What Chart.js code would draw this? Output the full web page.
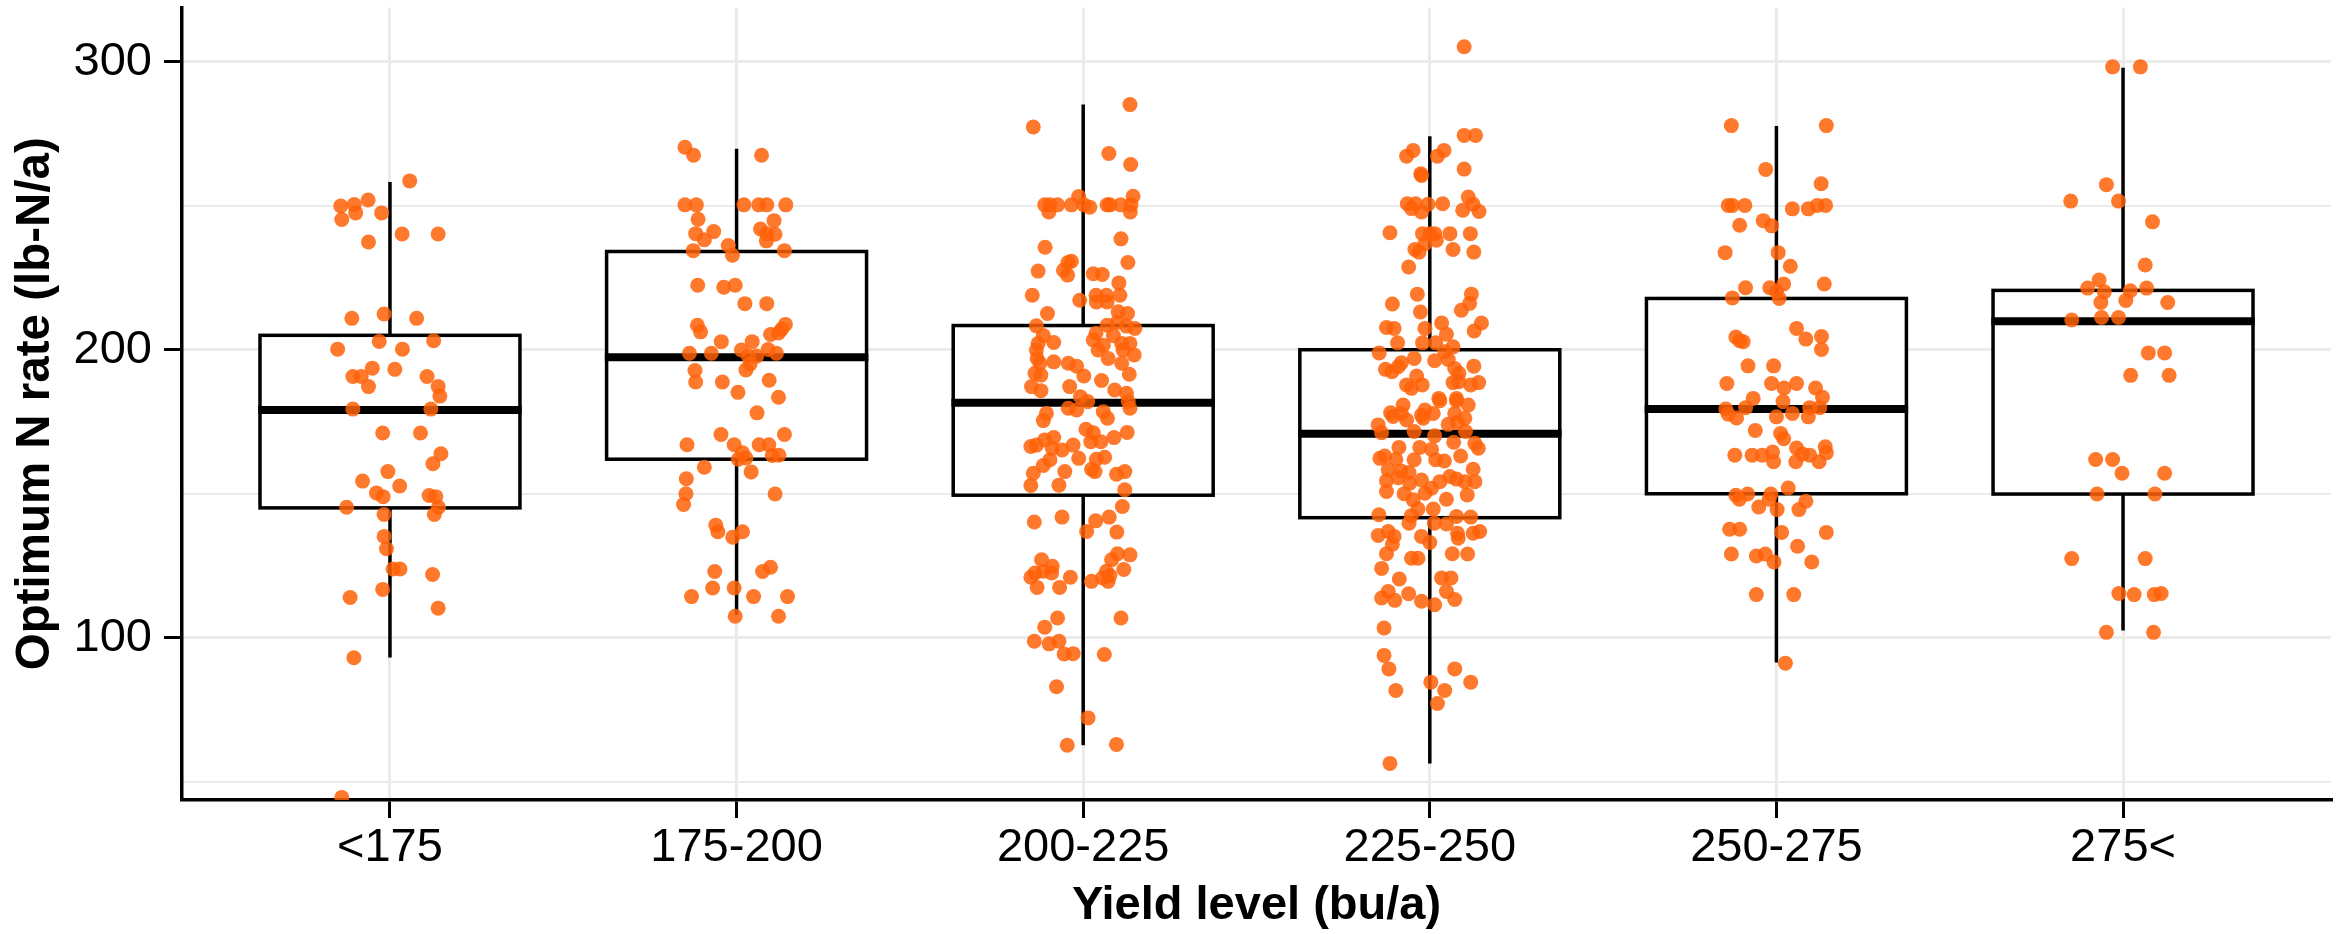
<!DOCTYPE html>
<html>
<head>
<meta charset="utf-8">
<style>
  html, body { margin: 0; padding: 0; background: #fff; }
</style>
<script src="https://cdn.jsdelivr.net/npm/chart.js@4.4.0/dist/chart.umd.min.js"></script>
</head>
<body>
<canvas id="grafico" width="2343" height="934"></canvas>
<script>
// Categories and axis ticks
const categorias = ['<175', '175-200', '200-225', '225-250', '250-275', '275<'];
const yTicks = [50, 100, 150, 200, 250, 300];
const yLabels = [100, 200, 300];

// Box plot statistics per category
const bigodeInf = [93.2, 107.9, 62.7, 56.4, 91.4, 102.5];
const quartil1 = [145.1, 162.0, 149.5, 141.7, 150.0, 149.9];
const mediana = [179.1, 197.4, 181.6, 170.8, 179.4, 209.9];
const quartil3 = [205.0, 234.1, 208.4, 200.0, 217.8, 220.6];
const bigodeSup = [258.2, 269.8, 285.1, 274.1, 277.7, 297.9];

// Jittered observations: [horizontal jitter (category units), optimum N rate]
const pontosG1 = [
  [0.057,258.6],[-0.142,249.9],[-0.103,250.4],[-0.063,252],[-0.139,245.2],[-0.099,247.5],[-0.024,247.5],
  [0.035,240.2],[0.139,240.2],[-0.062,237.4],[-0.110,210.9],[-0.017,212.4],[0.077,210.9],[-0.151,200.2],
  [-0.031,202.9],[0.036,200.2],[0.126,203.1],[-0.107,190.7],[-0.083,190.7],[-0.051,193.6],[0.014,193.2],
  [-0.062,187.2],[0.107,190.7],[0.139,187.2],[0.144,183.9],[-0.107,179.4],[0.118,179.4],[-0.021,171.1],
  [0.088,171.1],[0.147,163.9],[0.124,160.4],[-0.006,157.7],[-0.079,154.4],[0.028,152.7],[-0.039,150.3],
  [-0.020,149],[0.113,149.4],[0.132,149],[-0.125,145.3],[0.140,145.3],[-0.017,142.8],[0.128,142.8],
  [-0.017,135.2],[-0.010,130.9],[0.009,123.9],[0.029,123.9],[0.123,122],[-0.021,116.8],[-0.115,114],
  [0.139,110.3],[-0.104,93.1],[-0.139,44.6]
];
const pontosG2 = [
  [-0.149,270.3],[-0.124,267.5],[0.072,267.5],[-0.149,250.3],[-0.116,250.3],[0.021,250.3],[0.064,250.3],
  [0.087,250.3],[0.142,250.3],[-0.111,245.3],[0.108,244.8],[-0.118,240.3],[-0.066,241],[-0.093,238.2],
  [0.069,241.9],[0.087,240.3],[0.111,240.1],[0.086,237.8],[-0.024,236.2],[-0.125,234.4],[-0.012,232.8],
  [0.138,234.4],[-0.112,222.4],[-0.037,221.7],[-0.004,222.4],[0.024,216],[0.087,216],[-0.113,208.5],
  [-0.104,206.2],[0.141,208.8],[0.130,207.1],[0.098,205.3],[0.121,205.8],[-0.044,202.8],[0.045,202.8],
  [-0.136,198.8],[-0.073,198.8],[0.014,199.9],[0.034,197.8],[0.058,197.8],[0.091,200.1],[0.115,198.8],
  [0.039,195.1],[0.027,193],[-0.120,192.8],[-0.118,188.8],[-0.041,188.8],[0.094,189.4],[0.004,185.2],
  [0.121,183.5],[0.059,178.1],[-0.045,170.6],[0.138,170.6],[-0.143,167],[-0.007,167],[0.065,167],
  [0.093,167],[0.017,164.2],[0.005,162],[0.027,162.4],[0.103,163.3],[0.122,163.4],[-0.093,159.2],
  [0.042,157.6],[-0.145,155.2],[-0.146,150],[-0.153,146.3],[0.111,149.9],[-0.060,139.1],[-0.054,136.8],
  [-0.011,134.9],[0.017,136.8],[-0.063,123],[0.075,123],[0.098,124.5],[-0.069,117.3],[-0.007,117.3],
  [-0.130,114.3],[0.049,114.3],[0.147,114.3],[-0.004,107.5],[0.121,107.5]
];
const pontosG3 = [
  [0.135,285.1],[-0.144,277.3],[0.074,268.1],[0.137,264.3],[-0.013,253.2],[0.144,253.3],[-0.111,250.3],
  [-0.096,250.3],[-0.074,250.3],[-0.099,247.8],[-0.034,250.3],[0.002,250.3],[0.019,249.5],[0.069,250.3],
  [0.077,250.3],[0.108,250.3],[0.138,250.3],[0.136,247.8],[0.109,238.5],[-0.110,235.6],[0.129,230.3],
  [-0.034,230.7],[-0.044,230.3],[-0.057,227.6],[-0.045,225.9],[-0.130,227.3],[0.029,226.4],[0.055,226.1],
  [0.103,223.2],[-0.147,218.9],[-0.010,217.2],[0.037,218.9],[0.067,218.9],[0.106,218.9],[0.038,216.6],
  [0.069,216.6],[-0.103,212.6],[0.101,213.2],[0.128,212.6],[-0.135,208.3],[0.069,208.5],[0.098,209.5],
  [0.125,208.2],[0.149,207.4],[-0.115,204.9],[-0.085,202.5],[-0.130,202.2],[0.037,205.7],[0.029,203.4],
  [0.058,201.6],[0.087,204.9],[0.111,202.2],[0.135,202.2],[-0.135,199.9],[0.043,199.9],[0.072,197],
  [0.115,199.9],[0.147,198.2],[-0.133,197],[-0.125,195.3],[-0.085,195.8],[-0.043,195.3],[-0.019,194.3],
  [0.111,195.3],[-0.139,191.8],[-0.122,191.2],[0.002,190.9],[0.133,191.5],[0.053,189.3],[-0.149,187.2],
  [-0.122,185.8],[-0.039,187.2],[0.091,186],[0.125,184.9],[-0.008,183.7],[0.013,182],[0.130,182],
  [-0.043,179.7],[-0.019,179.1],[0.135,179.7],[-0.106,177.9],[0.058,178.5],
  [-0.115,175.4],[0.070,176.2],[0.008,172.4],[0.029,171.2],[0.127,171.3],[0.022,168.1],[0.051,168.1],
  [0.089,169.5],[-0.111,168.7],[-0.085,169.5],[-0.151,166.4],[-0.135,166.9],[-0.089,165.8],[-0.061,165.2],
  [-0.029,166.9],[-0.013,162.3],[-0.096,161.8],[-0.115,159.8],[0.038,162],[0.062,162.7],[-0.144,157.1],
  [-0.053,157.7],[0.024,158.5],[0.034,157.7],[0.096,156.8],[0.120,157.7],[-0.151,152.9],[-0.070,153],
  [0.120,151.4],[0.113,145.6],[-0.141,140.2],[-0.061,141.9],[0.036,140.6],[0.075,141.9],[0.010,136.9],
  [0.097,136.7],[-0.120,127.1],[-0.089,124.8],[-0.139,122.5],[-0.151,121],[-0.115,123.1],[-0.091,122.5],
  [-0.037,121],[-0.133,117.5],[-0.068,117.5],[0.024,119.6],[0.099,129.2],[0.135,128.8],[0.082,127.1],
  [0.117,123.7],[0.067,123.1],[0.077,121.6],[0.056,120.8],[0.072,119.6],[-0.074,106.9],[-0.111,103.7],
  [0.109,106.9],[-0.141,98.8],[-0.098,97.9],[-0.070,98.8],[-0.055,94.4],[-0.029,94.5],[0.061,94.2],
  [-0.077,83],[0.014,72.2],[-0.046,62.7],[0.096,63]
];
const pontosG4 = [
  [0.099,305.2],[0.099,274.4],[0.132,274.4],[-0.048,269.2],[-0.067,267.2],[0.041,269.2],[0.022,267.2],
  [0.099,262.7],[-0.026,261.1],[-0.024,260.5],[-0.065,250.7],[-0.053,249],[-0.041,250.7],[-0.024,247.8],
  [-0.005,250.5],[0.037,250.7],[0.111,253],[0.095,248.4],[0.125,250.5],[0.142,248],[-0.115,240.6],
  [-0.021,240.3],[0,240.3],[0.014,240.3],[0.019,238],[0.058,240.3],[0.117,240.3],[-0.043,234.8],
  [-0.031,233.9],[-0.014,236.8],[0.067,234.8],[0.127,233.9],[-0.061,228.7],[-0.036,219.3],[-0.108,215.9],
  [-0.027,213.1],[0.120,219.3],[0.115,216.1],[0.091,213.7],[-0.125,207.7],[-0.103,207.4],[-0.014,207.4],
  [0.034,209.3],[0.048,205.4],[0.149,209.3],[0.128,206.5],[-0.093,202.4],[-0.021,202.4],[0.017,202.4],
  [0.067,201],[-0.146,198.9],[-0.045,197],[0.014,196.2],[0.043,199.3],[0.053,196.6],[-0.128,193.2],
  [-0.109,192.4],[-0.082,195.5],[-0.091,194.1],[0.072,193.5],[0.084,191.8],[0.127,194.3],[-0.038,190.9],
  [-0.067,187.8],[-0.053,186.6],[-0.022,187.8],[0.067,188.6],[0.084,188.9],[0.118,187.8],[0.141,188.6],
  [0.026,183.1],[0.077,183.1],
  [0.029,182.3],[0.077,182.3],[0.111,180.8],[-0.077,180.8],[-0.113,178.1],[-0.106,176.8],[-0.082,177.9],
  [-0.067,175.6],[-0.024,177.3],[-0.014,179.1],[0.010,177.9],[-0.019,176.2],[0.072,177.9],[0.101,176.2],
  [0.053,174.1],[0.080,174.7],[0.103,171.6],[-0.149,173.9],[-0.139,171.2],[-0.045,171.6],[0.014,170.1],
  [0.069,167.9],[0.130,167.5],[0.140,165.8],[-0.089,166.1],[-0.029,166.1],[0.005,165.4],[-0.144,162.3],
  [-0.130,163.1],[-0.098,162],[-0.045,161.8],[0.017,161.8],[0.042,161.4],[0.089,163.1],[0.125,158.5],
  [-0.120,158.3],[-0.083,157.9],[-0.060,157.4],[-0.125,154.5],[-0.091,155.6],[-0.058,153.7],[-0.024,154.8],
  [0.005,151.9],[0.029,154.2],[0.058,156],[0.077,155.1],[0.101,154.2],[0.130,154.2],[-0.125,150.8],
  [-0.074,150],[-0.048,147.9],[-0.014,150.2],[0.048,148.1],[0.108,149.6],[-0.034,144.7],[0.010,144.7],
  [-0.147,142.7],[-0.053,142.4],[-0.060,139.8],[0.013,139.8],[0.077,142.1],[0.118,141.9],[0.048,139.5],
  [-0.149,135.5],[-0.120,136.9],[-0.103,135.2],[-0.108,132.5],[-0.024,135.2],[0,133.1],[0.080,136.3],
  [0.082,134.6],[0.125,136.3],[0.144,136.9],[-0.125,129.2],[-0.053,127.6],[-0.034,127.6],[0.065,129.2],
  [0.109,129.1],[-0.139,124.1],[-0.088,120.4],[0.034,120.8],[0.061,120.8],[-0.120,116.1],[-0.139,113.8],
  [-0.101,113],[-0.061,115.3],[-0.024,112.7],[0.014,111.5],[0.048,116.1],[0.072,113.3],[-0.132,103.4],
  [-0.132,93.9],[-0.118,89.2],[0.072,89.2],[0.003,84.6],[0.118,84.6],[0.043,81.7],[-0.098,81.7],
  [0.022,77.2],[-0.115,56.4]
];
const pontosG5 = [
  [-0.130,277.8],[0.144,277.8],[-0.031,262.6],[0.129,257.6],[-0.139,250.1],[-0.127,250.1],[-0.091,250.1],
  [0.046,248.9],[0.092,248.9],[0.118,250.1],[0.142,250.1],[-0.106,243.2],[-0.038,244.8],[-0.014,243],
  [-0.148,233.7],[0.005,233.7],[0.040,229],[-0.089,221.5],[-0.019,221.5],[0.021,222.8],[0.138,222.8],
  [-0.127,218],[0,220.2],[0.008,217.8],[0.058,207.4],[-0.117,204.4],[-0.096,202.8],[-0.106,203.1],
  [0.085,203.7],[0.130,204.6],[0.130,200.1],[-0.082,194.4],[-0.008,194.4],[-0.143,188.3],[-0.014,188.3],
  [0.022,186.7],[0.058,188.3],[0.113,186.7],[-0.067,183.1],[0.019,182],[0.133,183.5],[-0.146,179.4],
  [-0.139,177.6],[-0.115,176.3],[-0.089,179.9],[0,176.7],[0.046,177.9],[0.092,176.7],[0.096,179.9],
  [0.125,179.9],[-0.061,172],[0.012,170.9],[0.021,169.1],[-0.120,163.4],[-0.070,163.4],[-0.041,163.4],
  [-0.011,164.5],[-0.008,161.1],[0.058,165.9],[0.056,161.1],[0.075,163.8],[0.096,163.4],[0.123,161.1],
  [0.141,166.3],[0.144,164.2],[-0.117,149.5],[-0.107,148.1],[-0.083,149.9],[-0.016,149.9],[0.034,152],
  [-0.021,148.1],[-0.051,145.4],[0.002,144.5],[0.065,144.5],[0.085,147.4],[-0.135,137.7],[-0.106,137.7],
  [0.015,136.6],[0.144,136.6],[-0.130,129.1],[-0.058,128.4],[-0.032,129.1],[-0.007,126.3],[0.061,131.8],
  [0.102,126.3],[-0.058,115],[0.050,115],[0.026,91.2]
];
const pontosG6 = [
  [-0.030,298.2],[0.050,298.2],[-0.048,257.3],[-0.151,251.6],[-0.013,251.6],[0.085,244.4],[0.064,229.4],
  [-0.069,224.2],[-0.102,221.4],[-0.054,220.1],[0.021,220.5],[0.068,221.4],[-0.064,216.4],[0.008,217.1],
  [0.129,216.4],[-0.148,210.3],[-0.062,211.2],[-0.013,211.2],[0.073,198.9],[0.120,198.9],[0.022,191.1],
  [0.133,191.1],[-0.079,161.9],[-0.030,161.9],[-0.003,157.1],[0.120,157.1],[-0.075,149.9],[0.092,149.9],
  [-0.148,127.5],[0.064,127.5],[-0.012,115.4],[0.032,115],[0.090,115],[0.110,115.4],[-0.048,101.9],
  [0.088,101.9]
];

const grupos = [pontosG1, pontosG2, pontosG3, pontosG4, pontosG5, pontosG6];
const fonte = '"Liberation Sans", Arial, sans-serif';
const meiaLargura = 0.375;

// Scatter points: category position + jitter
let dadosPontos = [];
grupos.forEach(function (grupo, i) {
    grupo.forEach(function (p) {
        dadosPontos.push({ x: i + 1 + p[0], y: p[1] });
    });
});

// Box plot drawn behind the points, through the chart scales
const caixasPlugin = {
    id: 'caixas',
    beforeDatasetsDraw(chart) {
        const ctx = chart.ctx;
        const x = chart.scales.x;
        const y = chart.scales.y;
        ctx.save();
        ctx.strokeStyle = '#000';
        categorias.forEach(function (c, i) {
            const cx = x.getPixelForValue(i + 1);
            const esq = x.getPixelForValue(i + 1 - meiaLargura);
            const dir = x.getPixelForValue(i + 1 + meiaLargura);
            const yQ1 = y.getPixelForValue(quartil1[i]);
            const yQ3 = y.getPixelForValue(quartil3[i]);
            const yMed = y.getPixelForValue(mediana[i]);

            ctx.lineWidth = 3.5;
            ctx.beginPath();
            ctx.moveTo(cx, y.getPixelForValue(bigodeSup[i]));
            ctx.lineTo(cx, yQ3);
            ctx.moveTo(cx, yQ1);
            ctx.lineTo(cx, y.getPixelForValue(bigodeInf[i]));
            ctx.stroke();

            ctx.fillStyle = '#fff';
            ctx.fillRect(esq, yQ3, dir - esq, yQ1 - yQ3);
            ctx.strokeRect(esq, yQ3, dir - esq, yQ1 - yQ3);

            ctx.lineWidth = 8;
            ctx.beginPath();
            ctx.moveTo(esq - 1.75, yMed);
            ctx.lineTo(dir + 1.75, yMed);
            ctx.stroke();
        });
        ctx.restore();
    }
};

const grafico = new Chart(document.getElementById('grafico'), {
    type: 'scatter',
    data: {
        datasets: [{
            label: 'Optimum N rate',
            data: dadosPontos,
            pointRadius: 7.5,
            pointHoverRadius: 7.5,
            pointBackgroundColor: 'rgba(255, 98, 8, 0.85)',
            pointBorderWidth: 0,
            clip: 0
        }]
    },
    options: {
        responsive: false,
        animation: false,
        devicePixelRatio: 1,
        layout: { padding: { top: 7, right: 12, left: 0, bottom: 0 } },
        plugins: { legend: { display: false }, tooltip: { enabled: false } },
        scales: {
            x: {
                type: 'linear',
                min: 0.4,
                max: 6.6,
                afterBuildTicks: function (s) { s.ticks = categorias.map(function (c, i) { return { value: i + 1 }; }); },
                afterFit: function (s) { s.height = 134; s.paddingLeft = 0; s.paddingRight = 0; },
                ticks: {
                    callback: function (v, i) { return categorias[i]; },
                    autoSkip: false,
                    maxRotation: 0,
                    color: '#000',
                    padding: 2,
                    font: { family: fonte, size: 47 }
                },
                grid: { color: '#ebebeb', lineWidth: 3, tickLength: 18, tickColor: '#000', tickWidth: 3 },
                border: { color: '#000', width: 3.5 },
                title: {
                    display: true,
                    text: 'Yield level (bu/a)',
                    color: '#000',
                    font: { family: fonte, size: 47, weight: 'bold' },
                    padding: { top: 0, bottom: 0 }
                }
            },
            y: {
                type: 'linear',
                min: 43.7,
                max: 318.8,
                afterBuildTicks: function (s) { s.ticks = yTicks.map(function (v) { return { value: v }; }); },
                afterFit: function (s) { s.width = 182; s.paddingTop = 0; s.paddingBottom = 0; },
                ticks: {
                    callback: function (v) { return yLabels.includes(v) ? String(v) : ''; },
                    color: '#000',
                    padding: 12,
                    font: { family: fonte, size: 47 }
                },
                grid: {
                    color: '#ebebeb',
                    lineWidth: function (c) { return yTicks[c.index] % 100 === 0 ? 3 : 2; },
                    tickLength: 18,
                    tickWidth: 3,
                    tickColor: function (c) { return yTicks[c.index] % 100 === 0 ? '#000' : 'rgba(0,0,0,0)'; }
                },
                border: { color: '#000', width: 3.5 },
                title: {
                    display: true,
                    text: 'Optimum N rate (lb-N/a)',
                    color: '#000',
                    font: { family: fonte, size: 47.5, weight: 'bold' },
                    padding: { top: 7, bottom: 0 }
                }
            }
        }
    },
    plugins: [caixasPlugin]
});
</script>
</body>
</html>
